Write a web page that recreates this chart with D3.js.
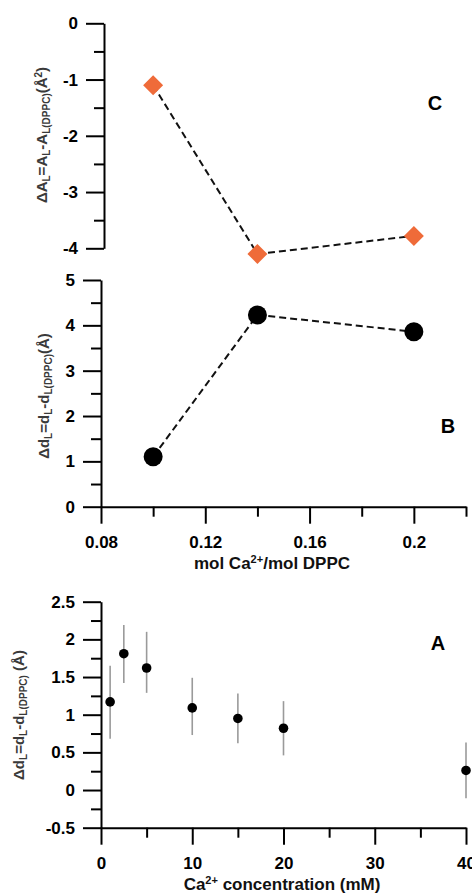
<!DOCTYPE html>
<html>
<head>
<meta charset="utf-8">
<script src="https://cdn.jsdelivr.net/npm/d3@7"></script>
<style>
  body { margin: 0; background: #fff; }
  svg { display: block; font-family: "Liberation Sans", Arial, sans-serif; }
  .axis path, .axis line { stroke: #000; stroke-width: 2; }
  .axis text { font-weight: bold; font-size: 17px; fill: #000; font-family: "Liberation Sans", Arial, sans-serif; }
</style>
</head>
<body>
<svg id="chart" width="472" height="894"></svg>
<script>
// ---- Data ----
const ratioX = [0.1, 0.14, 0.2];                 // mol Ca2+/mol DPPC
const deltaArea = [-1.1, -4.1, -3.78];            // panel C
const deltaThickB = [1.1, 4.23, 3.86];            // panel B

const concA = [1, 2.5, 5, 10, 15, 20, 40];        // Ca2+ concentration (mM)
const deltaThickA = [1.17, 1.81, 1.62, 1.09, 0.95, 0.82, 0.26];
const errLowA  = [0.68, 1.42, 1.29, 0.73, 0.62, 0.46, -0.11];
const errHighA = [1.65, 2.19, 2.10, 1.49, 1.28, 1.18, 0.63];

const ticksC = [0, -1, -2, -3, -4];
const minorC = [-0.5, -1.5, -2.5, -3.5];
const ticksB = [0, 1, 2, 3, 4, 5];
const minorB = [0.5, 1.5, 2.5, 3.5, 4.5];
const ticksRatio = [0.08, 0.12, 0.16, 0.2];
const ticksRatioLabels = ["0.08", "0.12", "0.16", "0.2"];
const minorRatio = [0.1, 0.14, 0.18, 0.22];
const ticksA = [-0.5, 0, 0.5, 1, 1.5, 2, 2.5];
const ticksALabels = ["-0.5", "0", "0.5", "1", "1.5", "2", "2.5"];
const minorA = [-0.25, 0.25, 0.75, 1.25, 1.75, 2.25];
const ticksConc = [0, 10, 20, 30, 40];
const minorConc = [5, 15, 25, 35];
const panelLetters = ["C", "B", "A"];

const svg = d3.select("#chart");
const hy = v => String(v).replace("\u2212", "-");

// ---- Scales ----
const xRatio = d3.scaleLinear().domain([0.08, 0.22]).range([101, 466]);
const yC = d3.scaleLinear().domain([-4, 0]).range([248.3, 23.3]);
const yB = d3.scaleLinear().domain([0, 5]).range([506.7, 280]);
const xConc = d3.scaleLinear().domain([0, 40]).range([101, 466]);
const yA = d3.scaleLinear().domain([-0.5, 2.5]).range([827.7, 601.7]);

function yAxis(scale, x, major, minor, labels) {
  const g = svg.append("g").attr("class", "axis").attr("transform", `translate(${x},0)`);
  g.call(d3.axisLeft(scale).tickValues(major).tickSize(18).tickSizeOuter(0).tickPadding(8)
    .tickFormat((d, i) => labels[i]));
  const m = svg.append("g").attr("class", "axis").attr("transform", `translate(${x},0)`);
  m.call(d3.axisLeft(scale).tickValues(minor).tickSize(10).tickFormat(""));
  m.select(".domain").remove();
  m.selectAll("text").remove();
}
function xAxis(scale, y, major, minor, labels) {
  const g = svg.append("g").attr("class", "axis").attr("transform", `translate(0,${y})`);
  g.call(d3.axisBottom(scale).tickValues(major).tickSize(17).tickSizeOuter(0).tickPadding(12)
    .tickFormat((d, i) => labels[i]));
  const m = svg.append("g").attr("class", "axis").attr("transform", `translate(0,${y})`);
  m.call(d3.axisBottom(scale).tickValues(minor).tickSize(10).tickFormat(""));
  m.select(".domain").remove();
  m.selectAll("text").remove();
}

// ---- Panel C ----
yAxis(yC, 104, ticksC, minorC, ticksC.map(hy));
const line = d3.line();
svg.append("path")
  .attr("d", line(ratioX.map((x, i) => [xRatio(x), yC(deltaArea[i])])))
  .attr("fill", "none").attr("stroke", "#111").attr("stroke-width", 2).attr("stroke-dasharray", "7,4");
svg.selectAll(".diamond").data(ratioX).join("path")
  .attr("class", "diamond")
  .attr("d", d3.symbol().type(d3.symbolSquare).size(200))
  .attr("transform", (d, i) => `translate(${xRatio(d)},${yC(deltaArea[i])}) rotate(45)`)
  .attr("fill", "#EF6B39");

// ---- Panel B ----
yAxis(yB, 101, ticksB, minorB, ticksB.map(hy));
xAxis(xRatio, 506.7, ticksRatio, minorRatio, ticksRatioLabels);
svg.append("path")
  .attr("d", line(ratioX.map((x, i) => [xRatio(x), yB(deltaThickB[i])])))
  .attr("fill", "none").attr("stroke", "#111").attr("stroke-width", 2).attr("stroke-dasharray", "7,4");
svg.selectAll(".dotB").data(ratioX).join("circle")
  .attr("class", "dotB")
  .attr("cx", d => xRatio(d)).attr("cy", (d, i) => yB(deltaThickB[i]))
  .attr("r", 9.5).attr("fill", "#000");

// ---- Panel A ----
yAxis(yA, 101, ticksA, minorA, ticksALabels);
xAxis(xConc, 827.7, ticksConc, minorConc, ticksConc.map(hy));
svg.selectAll(".err").data(concA).join("line")
  .attr("class", "err")
  .attr("x1", d => xConc(d)).attr("x2", d => xConc(d))
  .attr("y1", (d, i) => yA(errLowA[i])).attr("y2", (d, i) => yA(errHighA[i]))
  .attr("stroke", "#9a9a9a").attr("stroke-width", 1.6);
svg.selectAll(".dotA").data(concA).join("circle")
  .attr("class", "dotA")
  .attr("cx", d => xConc(d)).attr("cy", (d, i) => yA(deltaThickA[i]))
  .attr("r", 4.8).attr("fill", "#000");

// ---- Panel letters ----
const letterPos = [[435, 110], [448, 433], [438, 650]];
svg.selectAll(".letter").data(panelLetters).join("text")
  .attr("class", "letter")
  .attr("x", (d, i) => letterPos[i][0]).attr("y", (d, i) => letterPos[i][1])
  .attr("text-anchor", "middle").attr("font-weight", "bold").attr("font-size", 20)
  .text(d => d);

// ---- Axis titles ----
function xTitle(x, y, parts) {
  const t = svg.append("text").attr("x", x).attr("y", y).attr("text-anchor", "middle")
    .attr("font-weight", "bold").attr("font-size", 17).attr("fill", "#111");
  parts.forEach(p => {
    const s = t.append("tspan").text(p[0]);
    if (p[1] === "sup") s.attr("font-size", 11).attr("baseline-shift", "6");
  });
}
xTitle(272, 569, [["mol Ca"], ["2+", "sup"], ["/mol DPPC"]]);
xTitle(282, 890, [["Ca"], ["2+", "sup"], [" concentration (mM)"]]);

function yTitle(x, y, parts) {
  const t = svg.append("text").attr("transform", `translate(${x},${y}) rotate(-90)`)
    .attr("text-anchor", "middle").attr("font-weight", "bold").attr("font-size", 15).attr("fill", "#3a3a3a");
  parts.forEach(p => {
    const s = t.append("tspan").text(p[0]);
    if (p[1] === "sub") s.attr("font-size", 10).attr("baseline-shift", "-3");
    if (p[1] === "sup") s.attr("font-size", 10).attr("baseline-shift", "5");
  });
}
yTitle(47, 135, [["\u0394A"], ["L", "sub"], ["=A"], ["L", "sub"], ["-A"], ["L(DPPC)", "sub"], ["(\u00C5"], ["2", "sup"], [")"]]);
yTitle(49, 396, [["\u0394d"], ["L", "sub"], ["=d"], ["L", "sub"], ["-d"], ["L(DPPC)", "sub"], ["(\u00C5)"]]);
yTitle(24, 715, [["\u0394d"], ["L", "sub"], ["=d"], ["L", "sub"], ["-d"], ["L(DPPC)", "sub"], [" (\u00C5)"]]);
</script>
</body>
</html>
